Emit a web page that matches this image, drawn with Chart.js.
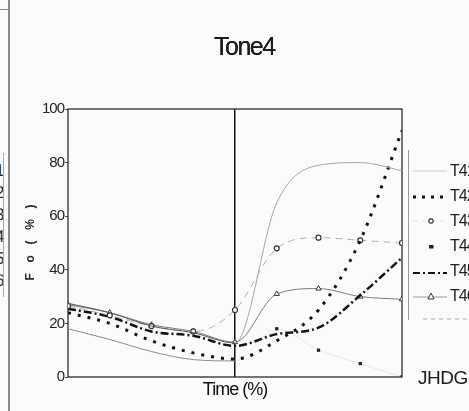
<!DOCTYPE html>
<html>
<head>
<meta charset="utf-8">
<script src="https://cdn.jsdelivr.net/npm/chart.js@4.4.1/dist/chart.umd.min.js"></script>
<style>
  html, body { margin: 0; padding: 0; background: #fbfbfa; overflow: hidden; }
  #wrap { position: relative; width: 469px; height: 411px; overflow: hidden; font-family: 'Liberation Sans', Arial, sans-serif; color: #1a1a1a; }
  #plot { position: absolute; left: 0; top: 0; width: 420px; height: 411px; }
  #title { position: absolute; left: 214px; top: 32px; font-size: 25px; letter-spacing: -1.5px; color: #1c1c1c; text-shadow: 0 0 0.6px #1c1c1c; }
  .edge { position: absolute; background: #8a8a8a; }
  #edgeNums { position: absolute; left: 0; top: 0; width: 7px; height: 411px; overflow: hidden; }
  .num { position: absolute; left: -5px; font-size: 17px; line-height: 17px; color: #2a2a2a; text-rendering: geometricPrecision; }
  #legend { position: absolute; left: 408px; top: 150px; width: 90px; height: 170px; border-left: 1px solid #9a9a9a; }
  .row { position: absolute; left: 0; height: 18px; display: flex; align-items: center; white-space: nowrap; }
  .row svg { width: 40px; height: 14px; }
  .row span { font-size: 16px; letter-spacing: -1px; margin-left: 1px; color: #222; }
  #jhdg { position: absolute; left: 418px; top: 367px; font-size: 19px; letter-spacing: -0.5px; color: #1a1a1a; }
</style>
</head>
<body>
<div id="wrap">
  <div class="edge" style="left:8px;top:0;width:2px;height:411px"></div>
  <div class="edge" style="left:0;top:9px;width:9px;height:1px"></div>
  <div id="edgeNums"></div>
  <div class="edge" style="left:3px;top:153px;width:1px;height:144px;background:#aaa"></div>
  <div id="plot"><canvas id="chart"></canvas></div>
  <div id="title">Tone4</div>
  <div id="legend"></div>
  <div id="jhdg">JHDG</div>
</div>
<script>
// time axis (% of the tone), one point every 12.5 %
const timePct = [0, 12.5, 25, 37.5, 50, 62.5, 75, 87.5, 100];

// F0 (%) per speaker
const t41 = [27.5, 24, 19, 16.5, 12.7, 65, 79, 80, 77];
const t42 = [24, 20, 13.5, 9, 6.7, 13.5, 25, 51, 92];
const t43 = [26.5, 23, 19, 17, 25, 48, 52, 51, 50];
const t44 = [18, 14, 9.5, 6.5, 6, 18, 10, 5, 0];
const t45 = [25.5, 22.5, 17, 15.4, 11.6, 16, 18.4, 30.5, 44.5];
const t46 = [27, 24, 19.5, 17, 13, 31, 33, 30, 29];

const seriesNames = ['T41', 'T42', 'T43', 'T44', 'T45', 'T46'];
const yTicks = [0, 20, 40, 60, 80, 100];
const sideNums = ['1', '2', '3', '4', '5', '6'];

const pts = vals => vals.map((v, i) => ({ x: timePct[i], y: v }));
const rightHalf = c => c.p0DataIndex >= 4;

const datasets = [
  { label: seriesNames[0], data: pts(t41), borderWidth: 1, pointRadius: 0,
    segment: { borderColor: c => rightHalf(c) ? '#a5a5a5' : '#555' } },
  { label: seriesNames[1], data: pts(t42), borderColor: '#111', borderWidth: 3, borderDash: [3, 7], pointRadius: 0 },
  { label: seriesNames[2], data: pts(t43), borderColor: '#b0b0b0', borderWidth: 1, borderDash: [7, 5],
    pointStyle: 'circle', pointRadius: 2.5, pointBorderWidth: 1.2, pointBorderColor: '#333', pointBackgroundColor: '#fff' },
  { label: seriesNames[3], data: pts(t44), borderWidth: 1,
    segment: { borderColor: c => rightHalf(c) ? 'rgba(160,160,160,0.2)' : '#8c8c8c' },
    pointStyle: 'rect', pointRadius: c => c.dataIndex > 4 ? 2.3 : 0, pointBorderWidth: 0, pointBackgroundColor: '#222' },
  { label: seriesNames[4], data: pts(t45), borderColor: '#111', borderWidth: 2.5, borderDash: [8, 3, 2, 3], pointRadius: 0 },
  { label: seriesNames[5], data: pts(t46), borderColor: '#7a7a7a', borderWidth: 1,
    pointStyle: 'triangle', pointRadius: 3, pointBorderWidth: 1, pointBorderColor: '#333', pointBackgroundColor: '#fff' },
];

// box around the plotting area
const frame = {
  id: 'frame',
  beforeDraw(chart) { chart.ctx.letterSpacing = '-1px'; },
  beforeDatasetsDraw(chart) {
    const { ctx, chartArea: a } = chart;
    ctx.save();
    ctx.strokeStyle = '#1b1b1b';
    ctx.lineWidth = 1.2;
    ctx.strokeRect(a.left, a.top, a.right - a.left, a.bottom - a.top);
    ctx.restore();
  },
};

new Chart(document.getElementById('chart'), {
  type: 'line',
  data: { datasets },
  plugins: [frame],
  options: {
    responsive: true,
    maintainAspectRatio: false,
    animation: false,
    cubicInterpolationMode: 'monotone',
    layout: { padding: { left: 0, right: 18, top: 109, bottom: 0 } },
    plugins: { legend: { display: false }, tooltip: { enabled: false } },
    scales: {
      x: {
        type: 'linear', min: 0, max: 100,
        afterFit: s => { s.height = 34; },
        ticks: { display: false, stepSize: 12.5 },
        border: { display: false },
        grid: { drawTicks: false, lineWidth: 1.5, color: c => c.tick && c.tick.value === 50 ? '#111' : 'rgba(0,0,0,0)' },
        title: {
          display: true, text: 'Time (%)', color: '#111',
          font: { family: 'Liberation Sans', size: 18, lineHeight: 1.2 },
          padding: { top: 0, bottom: 10 },
        },
      },
      y: {
        min: 0, max: 100,
        afterFit: s => { s.width = 68; },
        afterBuildTicks: s => { s.ticks = yTicks.map(v => ({ value: v })); },
        ticks: { color: '#1f1f1f', padding: 1, font: { family: 'Liberation Sans', size: 15 } },
        border: { display: false },
        grid: { drawOnChartArea: false, tickLength: 3, color: '#555' },
        title: {
          display: true, text: 'F     o     (     %     )', color: '#2a2a2a',
          font: { family: 'Liberation Sans', size: 12, weight: 'bold', lineHeight: 1.2 },
          padding: { top: 23, bottom: 0 },
        },
      },
    },
  },
});

// legend samples, one row per speaker, plus the plain dashed row
const samples = [
  '<line x1="4" y1="7" x2="38" y2="7" stroke="#ccc" stroke-width="1"/>',
  '<line x1="4" y1="8" x2="38" y2="8" stroke="#111" stroke-width="3" stroke-dasharray="3 6"/>',
  '<line x1="4" y1="7" x2="38" y2="7" stroke="#e2e2e2" stroke-width="1" stroke-dasharray="5 4"/><circle cx="22" cy="7" r="2.2" fill="#fff" stroke="#333" stroke-width="1.2"/>',
  '<rect x="20" y="6" width="4.5" height="3.5" fill="#222"/>',
  '<line x1="4" y1="9" x2="38" y2="9" stroke="#111" stroke-width="2" stroke-dasharray="7 3 2 3"/>',
  '<line x1="4" y1="8" x2="38" y2="8" stroke="#999" stroke-width="1"/><path d="M19 10 L22 4 L25 10 Z" fill="#fff" stroke="#333" stroke-width="1"/>',
];
const legend = document.getElementById('legend');
seriesNames.forEach((name, i) => {
  const row = document.createElement('div');
  row.className = 'row';
  row.style.top = (12 + i * 25) + 'px';
  row.innerHTML = `<svg viewBox="0 0 40 14">${samples[i]}</svg><span>${name}</span>`;
  legend.appendChild(row);
});
const dashRow = document.createElement('div');
dashRow.className = 'row';
dashRow.style.top = '160px';
dashRow.innerHTML = '<svg viewBox="0 0 60 14" style="width:60px"><line x1="14" y1="7" x2="60" y2="7" stroke="#aaa" stroke-width="1.2" stroke-dasharray="4 4"/></svg>';
legend.appendChild(dashRow);

// clipped numbers of the neighbouring panel
document.getElementById('edgeNums').innerHTML = sideNums
  .map((n, i) => `<div class="num" style="top:${162 + i * 22}px">${n}</div>`).join('');
</script>
</body>
</html>
